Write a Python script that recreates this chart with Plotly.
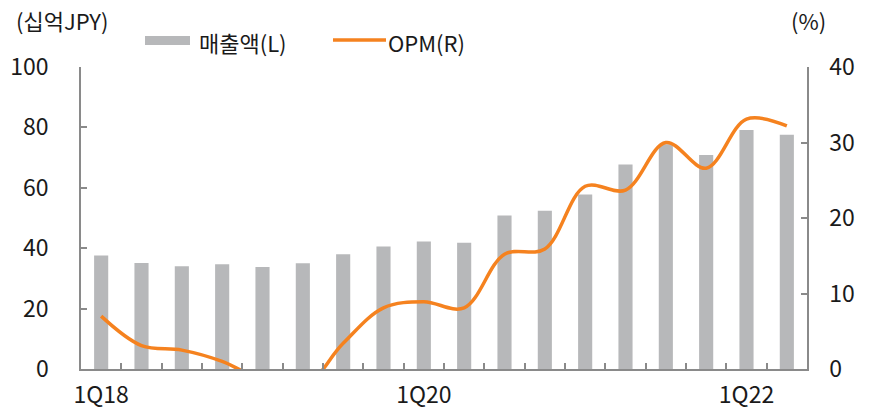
import plotly.graph_objects as go

quarters = ["1Q18", "2Q18", "3Q18", "4Q18", "1Q19", "2Q19", "3Q19", "4Q19",
            "1Q20", "2Q20", "3Q20", "4Q20", "1Q21", "2Q21", "3Q21", "4Q21",
            "1Q22", "2Q22"]
sales = [37.6, 35.1, 34.0, 34.7, 33.8, 35.0, 38.0, 40.6,
         42.2, 41.8, 50.8, 52.4, 57.8, 67.7, 74.4, 70.9,
         79.1, 77.6]
opm = [7.0, 3.1, 2.5, 1.0, -1.5, -2.5, 3.4, 8.1,
       8.9, 8.1, 15.2, 15.9, 24.2, 23.7, 30.0, 26.6,
       33.1, 32.2]
tick_labels = ["1Q18", "", "", "", "", "", "", "",
               "1Q20", "", "", "", "", "", "", "",
               "1Q22", ""]
left_ticks = [0, 20, 40, 60, 80, 100]
right_ticks = [0, 10, 20, 30, 40]

FONT = "Noto Sans CJK KR"
BAR_C = "#b7b8ba"
LINE_C = "#f5821f"
AX_C = "#8a8a8a"
TICK_FONT = dict(family=FONT, size=23, color="#1a1a1a")

fig = go.Figure()
fig.add_trace(go.Bar(x=quarters, y=sales, name="매출액(L)", marker_color=BAR_C,
                     marker_line_width=0, yaxis="y"))
fig.add_trace(go.Scatter(x=quarters, y=opm, name="OPM(R)", mode="lines",
                         line=dict(color=LINE_C, width=3.5, shape="spline", smoothing=1),
                         yaxis="y2"))

fig.update_layout(
    width=872, height=409,
    margin=dict(l=81, r=65, t=67, b=40, autoexpand=False),
    paper_bgcolor="white", plot_bgcolor="white",
    font=dict(family=FONT, size=22, color="#1a1a1a"),
    showlegend=False,
    bargap=0.65,
    xaxis=dict(type="category", categoryorder="array", categoryarray=quarters,
               tickmode="array", tickvals=quarters, ticktext=tick_labels,
               tickson="boundaries", ticks="inside", ticklen=6, tickcolor=AX_C,
               tickwidth=1.5, showline=True, linecolor=AX_C, linewidth=1.5,
               showgrid=False, zeroline=False, ticklabelstandoff=5,
               tickangle=0, automargin=False, tickfont=TICK_FONT,
               range=[-0.5, 17.5]),
    yaxis=dict(range=[0, 100], tickvals=left_ticks, ticks="inside", ticklen=6,
               tickcolor=AX_C, tickwidth=1.5, showline=True, linecolor=AX_C,
               linewidth=1.5, showgrid=False, zeroline=False, tickfont=TICK_FONT,
               ticklabelstandoff=26, automargin=False),
    yaxis2=dict(range=[0, 40], tickvals=right_ticks, ticks="inside", ticklen=6,
                tickcolor=AX_C, tickwidth=1.5, showline=True, linecolor=AX_C,
                linewidth=1.5, showgrid=False, zeroline=False, overlaying="y",
                side="right", ticklabelstandoff=16, automargin=False,
                tickfont=TICK_FONT),
)

# Custom legend
fig.add_shape(type="rect", xref="paper", yref="paper",
              x0=(145 - 81) / 726, x1=(190 - 81) / 726,
              y0=(369 - 45) / 302, y1=(369 - 36) / 302,
              fillcolor=BAR_C, line_width=0)
fig.add_shape(type="line", xref="paper", yref="paper",
              x0=(333 - 81) / 726, x1=(386 - 81) / 726,
              y0=(369 - 40) / 302, y1=(369 - 40) / 302,
              line=dict(color=LINE_C, width=3.5))
fig.add_annotation(text="매출액(L)", xref="paper", yref="paper",
                   x=(197 - 81) / 726, y=(369 - 42) / 302, xanchor="left",
                   yanchor="middle", showarrow=False)
fig.add_annotation(text="OPM(R)", xref="paper", yref="paper",
                   x=(386 - 81) / 726, y=(369 - 42) / 302, xanchor="left",
                   yanchor="middle", showarrow=False)
fig.add_annotation(text="(십억JPY)", xref="paper", yref="paper",
                   x=(14 - 81) / 726, y=(369 - 20) / 302, xanchor="left",
                   yanchor="middle", showarrow=False)
fig.add_annotation(text="(%)", xref="paper", yref="paper",
                   x=(809 - 81) / 726, y=(369 - 20) / 302, xanchor="center",
                   yanchor="middle", showarrow=False)

fig.write_html("out.html", config={"displayModeBar": False},
               post_script="document.body.style.margin='0px';")
